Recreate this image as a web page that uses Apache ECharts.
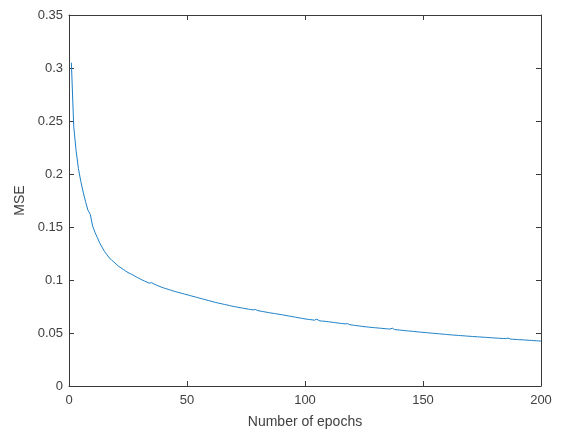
<!DOCTYPE html>
<html>
<head>
<meta charset="utf-8">
<script src="https://cdn.jsdelivr.net/npm/echarts@6/dist/echarts.min.js"></script>
<style>html,body{margin:0;padding:0;background:#fff}#c{width:569px;height:434px}</style>
</head>
<body>
<div id="c"></div>
<script>
const xTicks = [0, 50, 100, 150, 200];
const yTicks = [0, 0.05, 0.1, 0.15, 0.2, 0.25, 0.3, 0.35];
const mse = [
0.305,0.245,0.222,0.205,0.193,0.183,0.174,0.166,0.162,0.151,
0.145,0.140,0.135,0.131,0.127,0.124,0.121,0.119,0.117,0.115,
0.113,0.1115,0.110,0.1085,0.107,0.106,0.1048,0.1035,0.1023,0.1012,
0.100,0.099,0.098,0.097,0.0975,0.0962,0.0952,0.0943,0.0934,0.0926,
0.0919,0.0912,0.0905,0.0898,0.0891,0.0885,0.0879,0.0873,0.0867,0.0861,
0.0855,0.0849,0.0843,0.0837,0.0831,0.0825,0.0819,0.0813,0.0807,0.0801,
0.0795,0.0789,0.0784,0.0779,0.0774,0.0769,0.0764,0.0759,0.0754,0.0749,
0.0745,0.0741,0.0737,0.0733,0.0729,0.0725,0.0721,0.0718,0.0722,0.0711,
0.0707,0.0703,0.0699,0.0695,0.0691,0.0687,0.0684,0.0680,0.0677,0.0673,
0.0669,0.0665,0.0661,0.0657,0.0653,0.0649,0.0645,0.0641,0.0637,0.0633,
0.0630,0.0627,0.0624,0.0621,0.0631,0.0616,0.0613,0.0611,0.0609,0.0606,
0.0603,0.0600,0.0597,0.0594,0.0591,0.0589,0.0586,0.0589,0.0578,0.0575,
0.0572,0.0569,0.0566,0.0563,0.0560,0.0558,0.0556,0.0553,0.0551,0.0549,
0.0547,0.0545,0.0543,0.0541,0.0539,0.0537,0.0545,0.0532,0.0530,0.0528,
0.0526,0.0523,0.0521,0.0519,0.0517,0.0515,0.0512,0.0510,0.0508,0.0506,
0.0504,0.0502,0.0500,0.0498,0.0496,0.0494,0.0492,0.0490,0.0488,0.0486,
0.0484,0.0482,0.0480,0.0479,0.0477,0.0475,0.0474,0.0472,0.0470,0.0469,
0.0467,0.0466,0.0464,0.0463,0.0461,0.0460,0.0458,0.0457,0.0455,0.0454,
0.0452,0.0451,0.0449,0.0448,0.0447,0.0452,0.0443,0.0441,0.0440,0.0438,
0.0437,0.0436,0.0434,0.0433,0.0431,0.0430,0.0428,0.0427,0.0425,0.0424
];
const epochs = mse.map((_, i) => i + 1);
const data = epochs.map((e, i) => [e, mse[i]]);

const axisCol = '#3a3a3a';
const labelCol = '#404040';
const font = 'Liberation Sans, Arial, sans-serif';
const chart = echarts.init(document.getElementById('c'), null, {renderer: 'canvas'});
const baseX = {
  type: 'value', min: xTicks[0], max: xTicks[xTicks.length-1], interval: 50,
  axisLine: {show: true, onZero: false, lineStyle: {color: axisCol, width: 1}},
  axisTick: {show: true, inside: true, length: 5, lineStyle: {color: axisCol}},
  splitLine: {show: false}
};
const baseY = {
  type: 'value', min: 0, max: yTicks[yTicks.length-1], interval: 0.05,
  axisLine: {show: true, onZero: false, lineStyle: {color: axisCol, width: 1}},
  axisTick: {show: true, inside: true, length: 5, lineStyle: {color: axisCol}},
  splitLine: {show: false}
};
chart.setOption({
  animation: false,
  backgroundColor: '#fff',
  grid: {left: 69, right: 28, top: 15, bottom: 48, containLabel: false},
  xAxis: [
    Object.assign({}, baseX, {
      position: 'bottom',
      name: 'Number of epochs', nameLocation: 'middle', nameGap: 29,
      nameTextStyle: {color: labelCol, fontSize: 14, fontFamily: font},
      axisLabel: {color: labelCol, fontSize: 13, fontFamily: font, margin: 8,
        formatter: v => xTicks.includes(v) ? String(v) : ''}
    }),
    Object.assign({}, baseX, {position: 'top', axisLabel: {show: false}})
  ],
  yAxis: [
    Object.assign({}, baseY, {
      position: 'left',
      name: 'MSE', nameLocation: 'middle', nameGap: 40, nameRotate: 90,
      nameTextStyle: {color: labelCol, fontSize: 14, fontFamily: font},
      axisLabel: {color: labelCol, fontSize: 13, fontFamily: font, margin: 6,
        formatter: v => String(parseFloat(v.toFixed(2)))}
    }),
    Object.assign({}, baseY, {position: 'right', axisLabel: {show: false}})
  ],
  series: [{
    type: 'line', data: data, xAxisIndex: 0, yAxisIndex: 0,
    showSymbol: false, symbol: 'none',
    lineStyle: {color: '#1a80c8', width: 1}
  }]
});
</script>
</body>
</html>
